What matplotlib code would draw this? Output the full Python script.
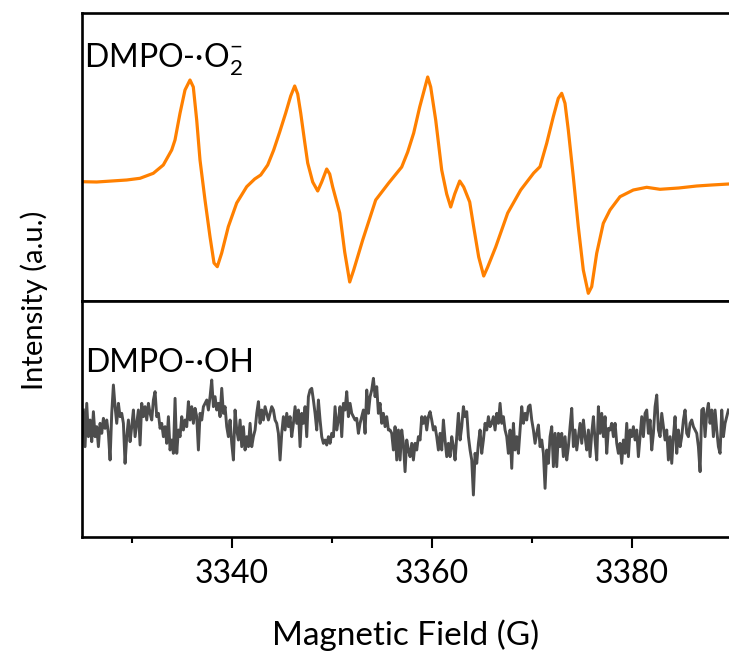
import numpy as np
import matplotlib
matplotlib.use("Agg")
import matplotlib.pyplot as plt
from matplotlib.ticker import MultipleLocator

plt.rcParams['font.family'] = ['Lato', 'DejaVu Sans']
plt.rcParams['mathtext.fontset'] = 'custom'
plt.rcParams['mathtext.rm'] = 'Lato'
plt.rcParams['mathtext.it'] = 'Lato:italic'
plt.rcParams['mathtext.bf'] = 'Lato:bold'

# ---------------- data ----------------
# DMPO-·O2- spectrum (field in G, intensity in a.u.)
o2_field = [3325.0, 3326.5, 3328.0, 3329.5, 3330.83, 3332.16, 3333.16, 3334.0, 3334.33, 3334.83,
            3335.33, 3335.83, 3336.16, 3336.5, 3336.83, 3337.33, 3337.83, 3338.23, 3338.56, 3339.0,
            3339.66, 3340.5, 3341.5, 3342.3, 3342.9, 3343.6, 3344.2, 3344.8, 3345.4, 3345.9,
            3346.3, 3346.6, 3346.9, 3347.3, 3347.6, 3348.1, 3348.6, 3349.0, 3349.5, 3349.8,
            3350.1, 3350.8, 3351.3, 3351.8, 3352.2, 3353.1, 3354.4, 3355.7, 3357.0, 3357.6,
            3358.2, 3358.8, 3359.2, 3359.6, 3359.9, 3360.4, 3361.0, 3361.5, 3361.9, 3362.3,
            3362.8, 3363.2, 3363.8, 3364.2, 3364.7, 3365.2, 3365.6, 3366.4, 3367.6, 3368.9,
            3370.2, 3370.83, 3371.5, 3372.16, 3372.66, 3373.0, 3373.33, 3373.66, 3374.16, 3374.66,
            3375.16, 3375.66, 3376.0, 3376.5, 3377.16, 3377.83, 3378.83, 3380.16, 3381.5, 3382.83,
            3384.7, 3386.5, 3388.0, 3389.7]
o2_signal = [0.3, 0.0, 1.0, 2.0, 3.7, 8.7, 17.0, 32.0, 42.0, 68.7,
             92.0, 102.0, 95.0, 62.0, 22.0, -18.0, -54.7, -81.0, -84.7, -71.0,
             -44.7, -21.0, -4.7, 3.0, 7.0, 17.0, 32.0, 50.0, 69.0, 86.0,
             96.0, 88.0, 69.0, 40.0, 19.0, 0.0, -9.0, 0.0, 13.0, 8.0,
             -5.0, -31.0, -70.0, -100.0, -88.0, -58.0, -18.0, -1.0, 15.0, 30.0,
             49.0, 75.0, 90.0, 105.0, 95.0, 62.0, 12.0, -12.0, -25.0, -12.0,
             1.0, -5.0, -20.0, -45.0, -75.0, -94.0, -85.0, -65.0, -31.0, -8.0,
             9.0, 15.3, 38.7, 65.3, 83.7, 88.7, 78.7, 52.0, 5.3, -44.7,
             -88.0, -111.3, -104.7, -71.3, -41.3, -28.0, -14.7, -8.0, -5.3, -7.3,
             -6.0, -4.0, -3.0, -2.0]

# DMPO-·OH spectrum: read values, uniform field sweep
oh_field_start = 3325.17
oh_field_end = 3389.67
oh_part1 = [-120, -230, -100, -200, -150, -215, -125, -200, -170, -230, -160, -190, -145, -175, -150, -190,
            -270, -130, -45, -110, -160, -100, -140, -130, -160, -280, -200, -150, -215, -170, -120, -200,
            -160, -120, -225, -100, -140, -110, -150, -100, -130, -150, -90, -65, -140, -130, -175, -160,
            -200, -170, -220, -140, -240, -210, -250, -85, -250, -180, -200, -140, -180, -150, -170, -95,
            -150, -110, -160, -115, -140, -240, -130, -150, -110, -100, -90, -120, -80, -30, -110, -80,
            -120, -100, -140, -55, -130, -110, -170, -200, -150, -220, -270, -120, -180, -210, -150, -230,
            -170, -240, -200, -230, -160, -230, -200, -180, -130, -95, -160, -120, -150, -110, -130, -150,
            -130, -110, -120, -150, -160, -190, -270, -190, -140, -180, -130, -170, -140, -200, -160]
oh_part2 = [-110, -160, -120, -230, -130, -160, -110, -200, -80, -60, -55, -90, -130, -180, -90, -150,
            -200, -220, -210, -225, -200, -220, -190, -200, -110, -180, -150, -110, -200, -100, -120, -65,
            -140, -100, -130, -140, -150, -145, -190, -160, -140, -120, -190, -60, -130, -80, -60, -25,
            -80, -50, -130, -100, -160, -130, -170, -140, -180, -180, -190, -240, -170, -270, -180, -270,
            -180, -220, -305, -210, -240, -260, -220, -270, -220, -240, -200, -210, -140, -160, -140, -180,
            -140, -125, -150, -180, -170, -200, -240, -190, -240, -150, -210, -260, -220, -260, -200, -230,
            -270, -200, -130, -210, -170, -110, -140, -125, -200, -240, -270, -375, -250, -280, -220, -180,
            -250, -210, -160, -180, -140, -170, -160, -140, -180, -130, -160, -100, -160, -140, -180, -200,
            -250]
oh_part3 = [-180, -295, -160, -240, -200, -250, -180, -110, -160, -130, -150, -110, -105, -150, -180, -220,
            -190, -165, -230, -210, -250, -355, -240, -280, -200, -170, -290, -190, -290, -190, -230, -190,
            -260, -200, -270, -230, -170, -115, -230, -180, -240, -200, -160, -220, -150, -200, -240, -180,
            -260, -190, -140, -210, -270, -110, -190, -130, -200, -140, -250, -175, -180, -160, -200, -160,
            -220, -250, -220, -280, -210, -250, -160, -260, -180, -200, -170, -210, -180, -260, -200, -140,
            -200, -130, -120, -190, -150, -240, -190, -110, -75, -180, -200, -130, -170, -210, -180, -270,
            -200, -280, -200, -140, -250, -180, -230, -200, -150, -120, -190, -200, -160, -150, -170, -180,
            -190, -230, -305, -120, -115, -200, -130, -100, -160, -120, -200, -120, -180, -230, -250, -120,
            -200, -160, -140, -120]

x_ticks = [3340, 3360, 3380]
x_label = "Magnetic Field (G)"
y_label = "Intensity (a.u.)"
label_o2 = "DMPO-·O$_2^{-}$"
label_oh = "DMPO-·OH"

# ---------------- figure ----------------
W, H = 729, 656
fig = plt.figure(figsize=(W / 100, H / 100), dpi=100)

left = 81.7 / W
ax_top = fig.add_axes([left, 1 - 301 / H, 1 - left, (301 - 13) / H])
ax_bot = fig.add_axes([left, 1 - 537 / H, 1 - left, (537 - 301) / H], sharex=ax_top)

oh_signal = np.concatenate([oh_part1, oh_part2, oh_part3])
oh_field = np.linspace(oh_field_start, oh_field_end, len(oh_signal))

ax_top.plot(o2_field, o2_signal, color='#FF8000', lw=2.3, solid_joinstyle='round')
ax_bot.plot(oh_field, oh_signal, color='#4D4D4D', lw=2.1, solid_joinstyle='round')

ax_top.set_xlim(3325.0, 3389.73)
ax_top.set_ylim(-119, 169)
ax_bot.set_ylim(-501, 207)

for ax in (ax_top, ax_bot):
    ax.spines['right'].set_visible(False)
    for s in ('left', 'top', 'bottom'):
        ax.spines[s].set_linewidth(1.9)
    ax.set_yticks([])

ax_top.tick_params(axis='x', which='both', bottom=False, labelbottom=False)
ax_bot.xaxis.set_major_locator(plt.FixedLocator(x_ticks))
ax_bot.xaxis.set_minor_locator(MultipleLocator(10))
ax_bot.tick_params(axis='x', which='major', direction='out', length=8, width=1.5,
                   labelsize=23, pad=8)
ax_bot.tick_params(axis='x', which='minor', direction='out', length=4, width=1.5)
ax_bot.set_xlabel(x_label, fontsize=24, labelpad=22)

ax_top.text(0.004, 0.8125, label_o2, transform=ax_top.transAxes, fontsize=23,
            ha='left', va='baseline')
ax_bot.text(0.006, 0.699, label_oh, transform=ax_bot.transAxes, fontsize=23,
            ha='left', va='baseline')

fig.text(34 / W, 1 - 300 / H, y_label, rotation=90, fontsize=21, ha='center', va='center')

fig.savefig("out.png", dpi=100)
